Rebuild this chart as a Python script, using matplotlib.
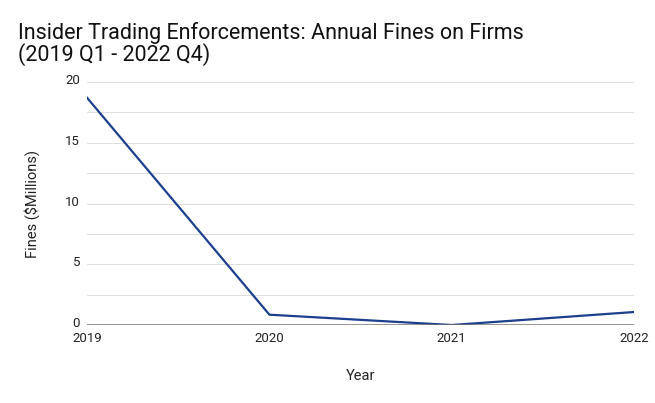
import matplotlib.pyplot as plt
import matplotlib.transforms as mtransforms
from matplotlib.ticker import MultipleLocator

plt.rcParams['font.family'] = ['Roboto', 'DejaVu Sans']

# data
years = [2019, 2020, 2021, 2022]
fines = [18.7, 0.85, 0.0, 1.07]
year_labels = ['2019', '2020', '2021', '2022']

fig = plt.figure(figsize=(6.55, 4.03), dpi=100)
ax = fig.add_axes([0.133, 0.1935, 0.835, 0.603])

ax.plot(years, fines, color='#1c3f8e', linewidth=1.6, zorder=3)

ax.set_xlim(2019, 2022)
ax.set_ylim(0, 20)
ax.set_xticks(years)
ax.set_xticklabels(year_labels)
ax.yaxis.set_major_locator(MultipleLocator(5))
ax.yaxis.set_minor_locator(MultipleLocator(2.5))

ax.grid(axis='y', which='both', color='#dedede', linewidth=0.8)
ax.axhline(0, color='#757575', linewidth=1.8, zorder=4)

for s in ax.spines.values():
    s.set_visible(False)
ax.tick_params(axis='both', which='both', length=0, labelsize=9.5, colors='#222222')
ax.tick_params(axis='y', pad=5)
ax.tick_params(axis='x', pad=5)

# nudge the y labels up a touch so "0" clears "2019"
shift = mtransforms.ScaledTranslation(0, 2 / 72, fig.dpi_scale_trans)
for lab in ax.get_yticklabels():
    lab.set_transform(lab.get_transform() + shift)

ax.set_xlabel('Year', fontsize=10.5, color='#222222', labelpad=17)
ax.set_ylabel('Fines ($Millions)', fontsize=10.5, color='#222222', labelpad=18)

fig.text(0.027, 0.945, 'Insider Trading Enforcements: Annual Fines on Firms\n(2019 Q1 - 2022 Q4)',
         fontsize=15.5, color='#111111', va='top', ha='left', linespacing=0.92)

fig.savefig('out.png', dpi=100)
